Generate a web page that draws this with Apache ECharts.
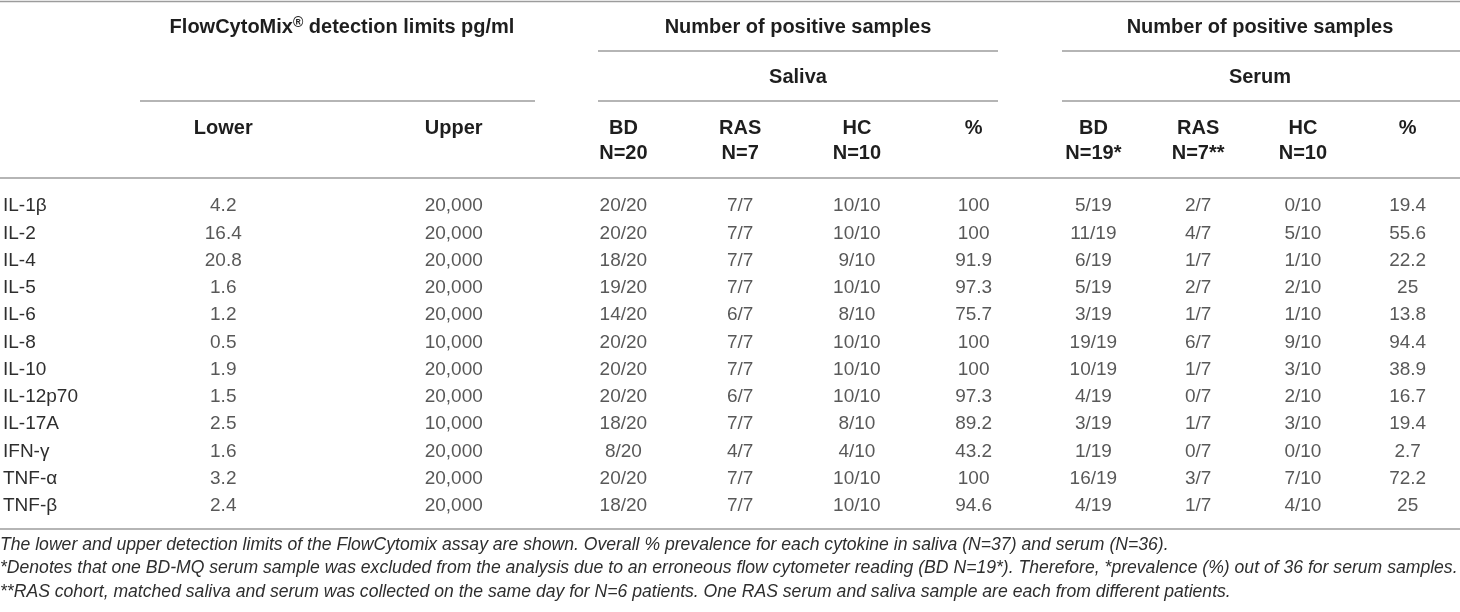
<!DOCTYPE html>
<html lang="en">
<head>
    <meta charset="UTF-8">
    <title>FlowCytoMix cytokine detection</title>
    <script src="https://cdn.jsdelivr.net/npm/echarts@6/dist/echarts.min.js"></script>
    <style>
        html, body { margin: 0; padding: 0; background: #fff; }
        #chart { width: 1460px; height: 612px; }
    </style>
</head>
<body>
<div id="chart"></div>
<script>
    // rows of the table
    const cytokines = ['IL-1β', 'IL-2', 'IL-4', 'IL-5', 'IL-6', 'IL-8', 'IL-10', 'IL-12p70', 'IL-17A', 'IFN-γ', 'TNF-α', 'TNF-β'];

    // FlowCytoMix detection limits, pg/ml
    const lowerLimit = [4.2, 16.4, 20.8, 1.6, 1.2, 0.5, 1.9, 1.5, 2.5, 1.6, 3.2, 2.4];
    const upperLimit = [20000, 20000, 20000, 20000, 20000, 10000, 20000, 20000, 10000, 20000, 20000, 20000];

    // saliva: positive samples per group (BD, RAS, HC) and overall %
    const salivaN = [20, 7, 10];
    const salivaBD = [20, 20, 18, 19, 14, 20, 20, 20, 18, 8, 20, 18];
    const salivaRAS = [7, 7, 7, 7, 6, 7, 7, 6, 7, 4, 7, 7];
    const salivaHC = [10, 10, 9, 10, 8, 10, 10, 10, 8, 4, 10, 10];
    const salivaPct = [100, 100, 91.9, 97.3, 75.7, 100, 100, 97.3, 89.2, 43.2, 100, 94.6];

    // serum
    const serumN = [19, 7, 10];
    const serumBD = [5, 11, 6, 5, 3, 19, 10, 4, 3, 1, 16, 4];
    const serumRAS = [2, 4, 1, 2, 1, 6, 1, 0, 1, 0, 3, 1];
    const serumHC = [0, 5, 1, 2, 1, 9, 3, 2, 3, 0, 7, 4];
    const serumPct = [19.4, 55.6, 22.2, 25, 13.8, 94.4, 38.9, 16.7, 19.4, 2.7, 72.2, 25];

    // column headers
    const limitCols = ['Lower', 'Upper'];
    const salivaCols = ['BD\nN=' + salivaN[0], 'RAS\nN=' + salivaN[1], 'HC\nN=' + salivaN[2], '%'];
    const serumCols = ['BD\nN=' + serumN[0] + '*', 'RAS\nN=' + serumN[1] + '**', 'HC\nN=' + serumN[2], '%'];

    const footnotes = [
        'The lower and upper detection limits of the FlowCytomix assay are shown. Overall % prevalence for each cytokine in saliva (N=37) and serum (N=36).',
        '*Denotes that one BD-MQ serum sample was excluded from the analysis due to an erroneous flow cytometer reading (BD N=19*). Therefore, *prevalence (%) out of 36 for serum samples.',
        '**RAS cohort, matched saliva and serum was collected on the same day for N=6 patients. One RAS serum and saliva sample are each from different patients.'
    ];

    const FONT = '"Liberation Sans", Arial, Helvetica, sans-serif';
    const TEXT = '#2e2e2e';
    const RULE = '#9c9c9c';

    // layout
    const rowTop = 192.5, rowH = 27.25;
    const grids = [
        {left: 105, width: 464},   // detection limits
        {left: 565, width: 467},   // saliva
        {left: 1041, width: 459}   // serum
    ].map(g => Object.assign(g, {top: rowTop, height: rowH * cytokines.length}));

    const colSets = [limitCols, salivaCols, serumCols];

    const xAxes = colSets.map((cols, gi) => ({
        type: 'category',
        gridIndex: gi,
        position: 'top',
        data: cols,
        axisLine: {show: false},
        axisTick: {show: false},
        splitLine: {show: false},
        axisLabel: {
            interval: 0,
            margin: 77,
            verticalAlign: 'top',
            lineHeight: 25,
            fontSize: 20,
            fontWeight: 'bold',
            fontFamily: FONT,
            color: '#1e1e1e'
        }
    }));

    const yAxes = colSets.map((cols, gi) => ({
        type: 'category',
        gridIndex: gi,
        inverse: true,
        data: cytokines,
        axisLine: {show: false},
        axisTick: {show: false},
        splitLine: {show: false},
        axisLabel: {
            show: gi === 0,
            align: 'left',
            margin: 105,
            fontSize: 19,
            fontFamily: FONT,
            color: TEXT
        }
    }));

    const fmtNum = v => String(v);
    const fmtThousands = v => v.toLocaleString('en-US');
    const fmtCount = n => v => v + '/' + n;

    // each table column: grid, column index, values, formatter
    const columns = [
        [0, 0, lowerLimit, fmtNum],
        [0, 1, upperLimit, fmtThousands],
        [1, 0, salivaBD, fmtCount(salivaN[0])],
        [1, 1, salivaRAS, fmtCount(salivaN[1])],
        [1, 2, salivaHC, fmtCount(salivaN[2])],
        [1, 3, salivaPct, fmtNum],
        [2, 0, serumBD, fmtCount(serumN[0])],
        [2, 1, serumRAS, fmtCount(serumN[1])],
        [2, 2, serumHC, fmtCount(serumN[2])],
        [2, 3, serumPct, fmtNum]
    ];

    const series = columns.map(([gi, ci, values, fmt]) => ({
        type: 'scatter',
        xAxisIndex: gi,
        yAxisIndex: gi,
        symbolSize: 0,
        silent: true,
        itemStyle: {color: 'transparent'},
        data: values.map((v, ri) => [ci, ri, fmt(v)]),
        label: {
            show: true,
            position: 'inside',
            formatter: p => p.value[2],
            fontSize: 19,
            fontFamily: FONT,
            color: TEXT
        }
    }));

    function rule(x1, x2, y) {
        return {type: 'line', silent: true, shape: {x1: x1, y1: y, x2: x2, y2: y}, style: {stroke: RULE, lineWidth: 1.6}};
    }

    function headText(text, x, y) {
        return {
            type: 'text', x: x, y: y, silent: true,
            style: {
                text: text, align: 'center', verticalAlign: 'middle',
                textAlign: 'center', textVerticalAlign: 'middle',
                fontSize: 20, fontWeight: 'bold', fontFamily: FONT, fill: '#1e1e1e',
                rich: {
                    b: {fontSize: 20, fontWeight: 'bold', fontFamily: FONT, fill: '#1e1e1e'},
                    sup: {fontSize: 14, fontWeight: 'bold', fontFamily: FONT, fill: '#1e1e1e', verticalAlign: 'top', padding: [0, 0, 8, 0]}
                }
            }
        };
    }

    const graphic = [
        rule(0, 1460, 1.5),
        rule(598, 998, 51),
        rule(1062, 1460, 51),
        rule(140, 535, 101),
        rule(598, 998, 101),
        rule(1062, 1460, 101),
        rule(0, 1460, 178),
        rule(0, 1460, 529),
        headText('{b|FlowCytoMix}{sup|®}{b| detection limits pg/ml}', 342, 27),
        headText('Number of positive samples', 798, 27),
        headText('Number of positive samples', 1260, 27),
        headText('Saliva', 798, 77),
        headText('Serum', 1260, 77)
    ].concat(footnotes.map((t, i) => ({
        type: 'text', x: 0, y: 545 + i * 23.5, silent: true,
        style: {
            text: t, align: 'left', verticalAlign: 'middle',
            textAlign: 'left', textVerticalAlign: 'middle',
            fontSize: 17.6, fontStyle: 'italic', fontFamily: FONT, fill: TEXT
        }
    })));

    const chart = echarts.init(document.getElementById('chart'), null, {renderer: 'canvas'});
    chart.setOption({
        animation: false,
        backgroundColor: '#ffffff',
        grid: grids,
        xAxis: xAxes,
        yAxis: yAxes,
        series: series,
        graphic: graphic
    });
</script>
</body>
</html>
